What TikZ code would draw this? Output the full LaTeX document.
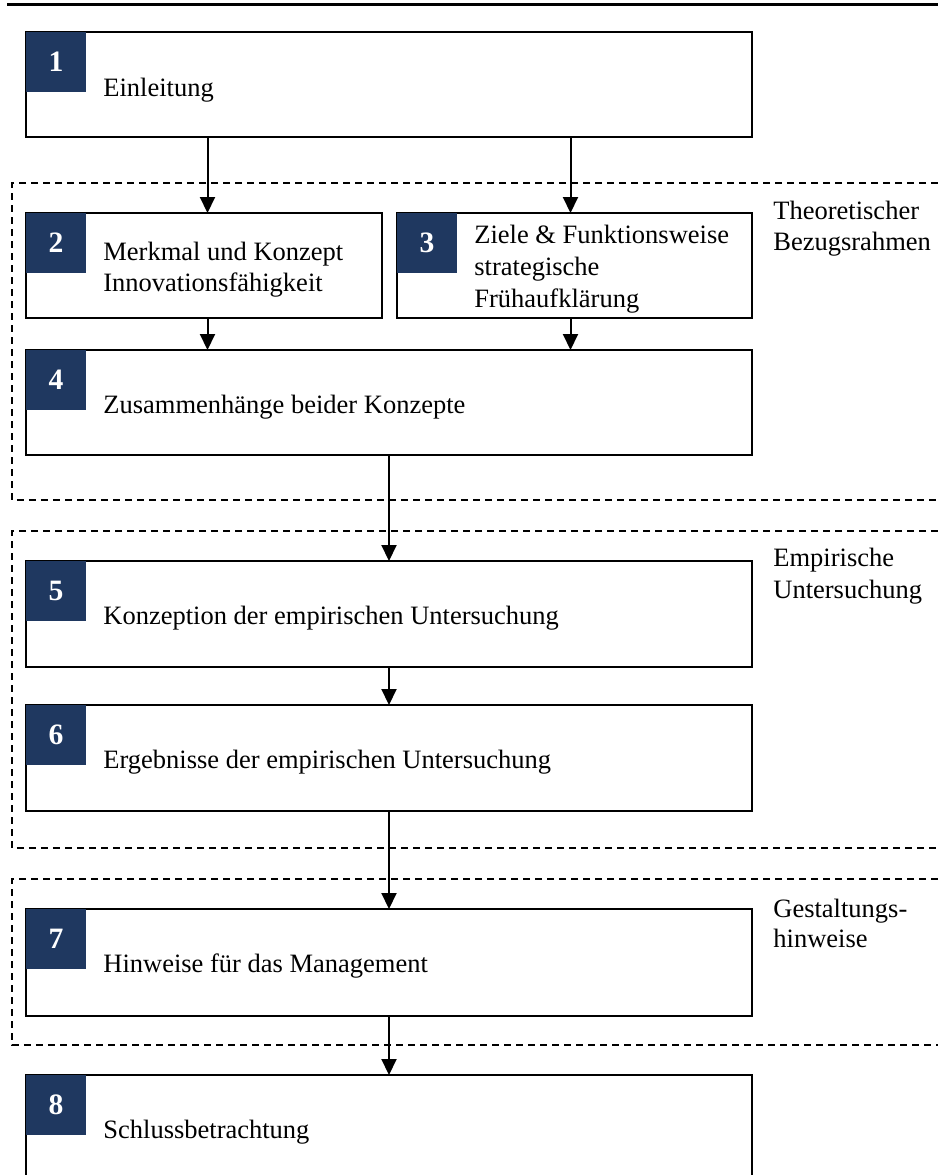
\documentclass[tikz,border=0pt]{standalone}
\usepackage{fontspec}
\setmainfont{Liberation Serif}
\usetikzlibrary{arrows.meta,calc}
\definecolor{navy}{RGB}{31,56,96}
\begin{document}
\begin{tikzpicture}[x=0.5pt,y=-0.5pt,
  chap/.style={draw, line width=1pt, fill=white, inner sep=0pt, outer sep=0pt, anchor=north west},
  numsq/.style={fill=navy, text=white, font=\fontsize{14.8}{16}\selectfont\bfseries, minimum size=30pt, inner sep=0pt, outer sep=0pt, anchor=north west},
  lbl/.style={font=\fontsize{13.25}{15.5}\selectfont, inner sep=0pt, anchor=base west},
  arr/.style={-{Triangle[length=8pt,width=7.5pt]}, line width=1pt},
  frame/.style={dash pattern=on 3.5pt off 2.5pt, line width=0.9pt},
  rule/.style={line width=1.5pt}]
\useasboundingbox (0,0) rectangle (938,1175);
\clip (0,0) rectangle (938,1175);
% top rule
\coordinate (rl) at (7,4);
\coordinate (rr) at (938,4);
\draw[rule] (rl) -- (rr);
% dashed frames
\draw[frame] (938,183) -- (12,183) -- (12,500) -- (938,500);
\draw[frame] (938,531) -- (12,531) -- (12,848) -- (938,848);
\draw[frame] (938,879) -- (12,879) -- (12,1045) -- (938,1045);
% frame labels
\node[lbl] (f1a) at (773,219) {Theoretischer};
\node[lbl] (f1b) at (773,250) {Bezugsrahmen};
\node[lbl] (f2a) at (773,566) {Empirische};
\node[lbl] (f2b) at (773,598) {Untersuchung};
\node[lbl] (f3a) at (773,917) {Gestaltungs-};
\node[lbl] (f3b) at (773,947) {hinweise};
% boxes
\node[chap, minimum width=363pt, minimum height=52.5pt] (b1) at (26,32) {};
\node[chap, minimum width=178pt, minimum height=52.5pt] (b2) at (26,213) {};
\node[chap, minimum width=177.5pt, minimum height=52.5pt] (b3) at (397,213) {};
\node[chap, minimum width=363pt, minimum height=52.5pt] (b4) at (26,350) {};
\node[chap, minimum width=363pt, minimum height=53pt] (b5) at (26,561) {};
\node[chap, minimum width=363pt, minimum height=53pt] (b6) at (26,705) {};
\node[chap, minimum width=363pt, minimum height=53.5pt] (b7) at (26,909) {};
\node[chap, minimum width=363pt, minimum height=70pt] (b8) at (26,1075) {};
% number squares
\node[numsq] (n1) at (b1.north west) {1};
\node[numsq] (n2) at (b2.north west) {2};
\node[numsq] (n3) at (b3.north west) {3};
\node[numsq] (n4) at (b4.north west) {4};
\node[numsq] (n5) at (b5.north west) {5};
\node[numsq] (n6) at (b6.north west) {6};
\node[numsq] (n7) at (b7.north west) {7};
\node[numsq] (n8) at (b8.north west) {8};
% texts
\node[lbl] (t1) at (103,96) {Einleitung};
\node[lbl] (t2a) at (103,260) {Merkmal und Konzept};
\node[lbl] (t2b) at (103,291) {Innovationsfähigkeit};
\node[lbl] (t3a) at (474,243) {Ziele \& Funktionsweise};
\node[lbl] (t3b) at (474,275) {strategische};
\node[lbl] (t3c) at (474,307) {Frühaufklärung};
\node[lbl] (t4) at (103,413) {Zusammenhänge beider Konzepte};
\node[lbl] (t5) at (103,624) {Konzeption der empirischen Untersuchung};
\node[lbl] (t6) at (103,768) {Ergebnisse der empirischen Untersuchung};
\node[lbl] (t7) at (103,972) {Hinweise für das Management};
\node[lbl] (t8) at (103,1138) {Schlussbetrachtung};
% connectors
\coordinate (q1) at ($(b1.south west)!0.25!(b1.south east)$);
\coordinate (q3) at ($(b1.south west)!0.75!(b1.south east)$);
\draw[arr] (q1) -- (q1 |- b2.north);
\draw[arr] (q3) -- (q3 |- b3.north);
\draw[arr] (q1 |- b2.south) -- (q1 |- b4.north);
\draw[arr] (q3 |- b3.south) -- (q3 |- b4.north);
\draw[arr] (b4.south) -- (b5.north);
\draw[arr] (b5.south) -- (b6.north);
\draw[arr] (b6.south) -- (b7.north);
\draw[arr] (b7.south) -- (b8.north);
\end{tikzpicture}
\end{document}
